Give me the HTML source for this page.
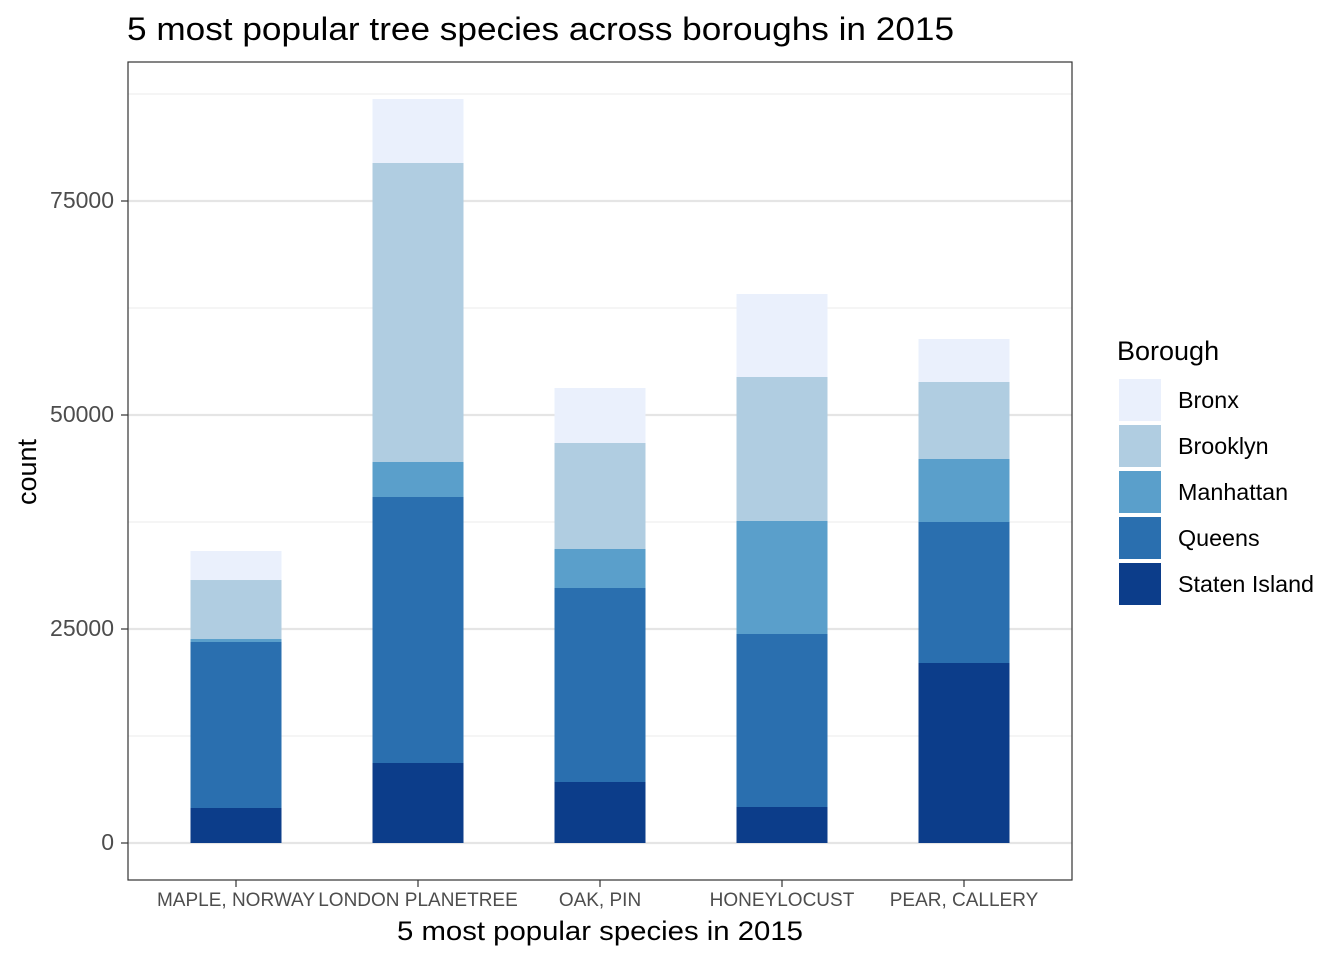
<!DOCTYPE html>
<html><head><meta charset="utf-8"><style>
body{margin:0;background:#fff;}
svg{display:block;font-family:"Liberation Sans",Arial,sans-serif;}
</style></head><body>
<svg id="chart" width="1344" height="960" viewBox="0 0 1344 960">
<rect width="1344" height="960" fill="#fff"/>
<text x="127" y="40" font-size="32" textLength="827" lengthAdjust="spacingAndGlyphs" fill="#000">5 most popular tree species across boroughs in 2015</text>
<g id="grid"></g>
<g id="bars"></g>
<rect x="128" y="62" width="944" height="818" fill="none" stroke="#333" stroke-width="1.2"/>
<g id="axes"></g>
<text x="397" y="940" font-size="27" textLength="406" lengthAdjust="spacingAndGlyphs" fill="#000">5 most popular species in 2015</text>
<text transform="translate(36,472) rotate(-90)" font-size="27" text-anchor="middle" fill="#000">count</text>
<g id="legend"></g>
</svg>
<script>
const species = ["MAPLE, NORWAY","LONDON PLANETREE","OAK, PIN","HONEYLOCUST","PEAR, CALLERY"];
const boroughs = ["Staten Island","Queens","Manhattan","Brooklyn","Bronx"];
const statenIsland = [4089, 9346, 7126, 4206, 21028];
const queens = [19392, 31075, 22664, 20210, 16472];
const manhattan = [350, 4088, 4556, 13201, 7360];
const brooklyn = [6892, 34930, 12383, 16822, 8995];
const bronx = [3388, 7477, 6425, 9697, 5024];
const yTicks = [0, 25000, 50000, 75000];
const yMinor = [12500, 37500, 62500, 87500];

const series = [statenIsland, queens, manhattan, brooklyn, bronx];
const colors = ["#0c3d8a","#2a6faf","#5a9fcb","#b0cde1","#eaf0fc"];
const NS = "http://www.w3.org/2000/svg";
const y = v => 843 - v * (214/25000);
const x = i => 236 + i * 182;
const bw = 91;
function mk(tag, attrs, parent){const e=document.createElementNS(NS,tag);for(const k in attrs)e.setAttribute(k,attrs[k]);parent.appendChild(e);return e;}
const grid=document.getElementById('grid'), bars=document.getElementById('bars'), axes=document.getElementById('axes'), legend=document.getElementById('legend');
yMinor.forEach(v=>{const l=mk('line',{x1:128,x2:1072,y1:y(v),y2:y(v),stroke:'#ebebeb','stroke-width':1},grid);

});
yTicks.forEach(v=>{const l=mk('line',{x1:128,x2:1072,y1:y(v),y2:y(v),stroke:'#e5e5e5','stroke-width':2.2},grid);


const t=mk('line',{x1:121,x2:128,y1:y(v),y2:y(v),stroke:'#333','stroke-width':1.2},axes);


const tx=mk('text',{x:114,y:y(v)+7,'font-size':23,'text-anchor':'end',fill:'#4d4d4d'},axes);tx.textContent=v;

});
species.forEach((s,i)=>{let cum=0;
series.forEach((arr,j)=>{const v=arr[i];const r=mk('rect',{x:x(i)-bw/2,y:y(cum+v),width:bw,height:y(cum)-y(cum+v),fill:colors[j]},bars);

cum+=v;});
const t=mk('line',{x1:x(i),x2:x(i),y1:880,y2:887,stroke:'#333','stroke-width':1.2},axes);


const tx=mk('text',{x:x(i),y:906,'font-size':19,'text-anchor':'middle',fill:'#4d4d4d'},axes);tx.textContent=s;

});
const lt=mk('text',{x:1117,y:360,'font-size':27,fill:'#000'},legend);lt.textContent='Borough';


const order=[4,3,2,1,0];
order.forEach((j,k)=>{const yy=379+k*46;
const r=mk('rect',{x:1119,y:yy,width:42,height:42,fill:colors[j]},legend);


const t=mk('text',{x:1178,y:yy+29,'font-size':23.3,fill:'#000'},legend);t.textContent=boroughs[j];

});
</script>
</body></html>
